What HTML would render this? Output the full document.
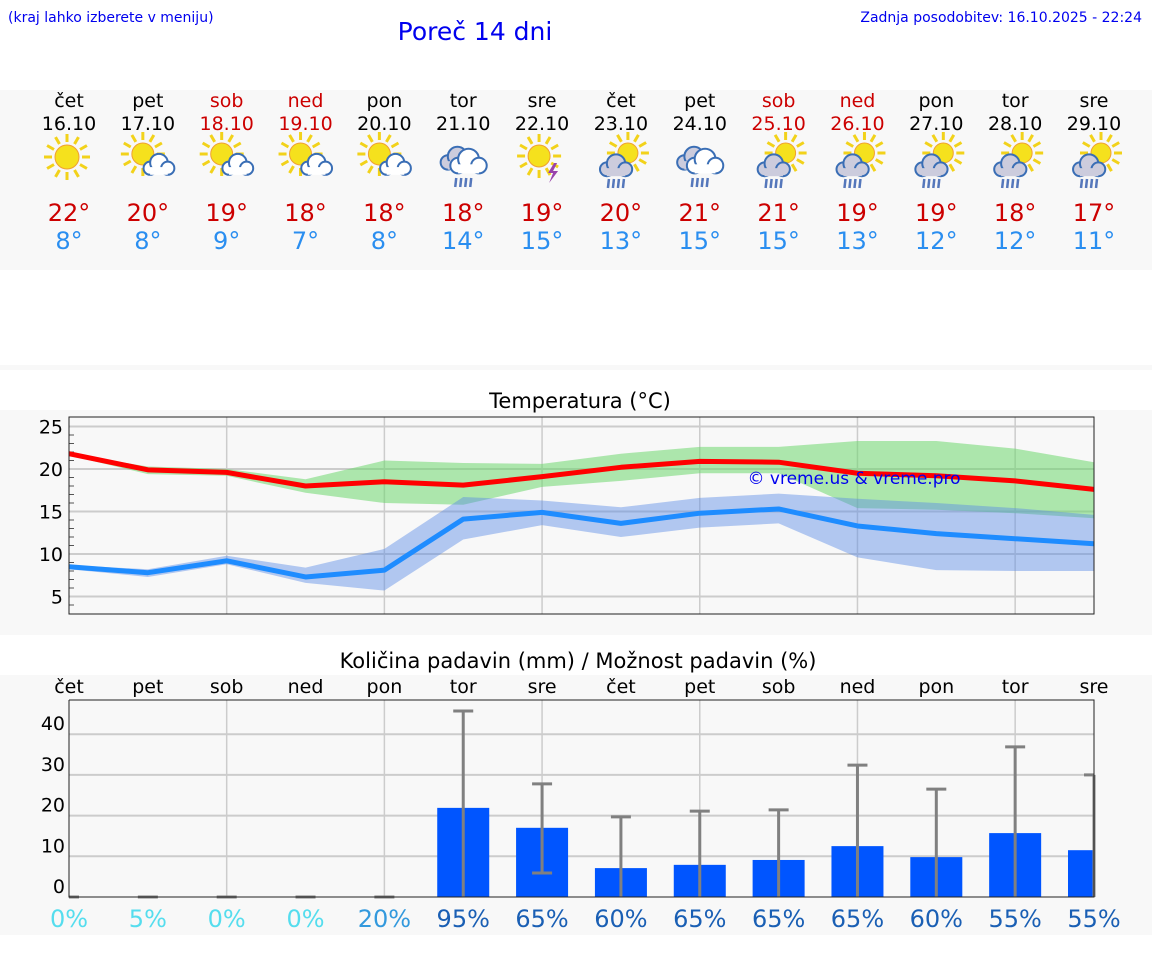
<!DOCTYPE html>
<html><head><meta charset="utf-8"><style>
body{margin:0;background:#fff;font-family:"DejaVu Sans","Liberation Sans",sans-serif}
svg{display:block}
</style></head><body>
<svg id="s" width="1152" height="975" xmlns="http://www.w3.org/2000/svg" font-family="DejaVu Sans, Liberation Sans, sans-serif">
<text x="8" y="22" font-size="14" fill="#0000ee">(kraj lahko izberete v meniju)</text>
<text x="475" y="40" font-size="25" fill="#0000ee" text-anchor="middle">Poreč 14 dni</text>
<text x="1142" y="22" font-size="14" fill="#0000ee" text-anchor="end">Zadnja posodobitev: 16.10.2025 - 22:24</text>
<rect x="0" y="90" width="1152" height="180" fill="#f8f8f8"/>
<rect x="0" y="365" width="1152" height="5" fill="#f8f8f8"/>
<rect x="0" y="410" width="1152" height="225" fill="#f8f8f8"/>
<rect x="0" y="675" width="1152" height="260" fill="#f8f8f8"/>
<g id="hdr"></g><g id="tc"></g><g id="pc"></g>
</svg>
<script>
const days=["čet","pet","sob","ned","pon","tor","sre","čet","pet","sob","ned","pon","tor","sre"];
const dates=["16.10","17.10","18.10","19.10","20.10","21.10","22.10","23.10","24.10","25.10","26.10","27.10","28.10","29.10"];
const weekend=[0,0,1,1,0,0,0,0,0,1,1,0,0,0];
const icons=[0,1,1,1,1,3,4,2,3,2,2,2,2,2];
const hiT=[22,20,19,18,18,18,19,20,21,21,19,19,18,17];
const loT=[8,8,9,7,8,14,15,13,15,15,13,12,12,11];
const maxLine=[21.8,19.9,19.6,18.0,18.5,18.1,19.1,20.2,20.9,20.8,19.5,19.2,18.6,17.6];
const maxUp=[21.8,20.3,20.0,18.8,21.0,20.7,20.6,21.8,22.6,22.6,23.3,23.3,22.4,20.8];
const maxLo=[21.6,19.4,19.2,17.2,16.0,15.8,17.9,18.6,19.5,19.5,15.4,15.2,14.8,14.2];
const minLine=[8.5,7.8,9.2,7.3,8.1,14.1,14.9,13.6,14.8,15.3,13.3,12.4,11.8,11.2];
const minUp=[8.7,8.2,9.8,8.4,10.6,16.7,16.3,15.5,16.6,17.1,16.5,16.0,15.4,14.6];
const minLo=[8.2,7.3,8.8,6.6,5.7,11.7,13.4,12.0,13.1,13.6,9.6,8.1,8.0,8.0];
const tTicks=[5,10,15,20,25];
const rain=[0,0,0,0,0,21.9,17.0,7.1,7.9,9.1,12.5,9.8,15.7,11.5];
const rainHi=[0,0,0,0,0,45.7,27.8,19.7,21.1,21.4,32.4,26.5,36.9,30.0];
const rainLo=[0,0,0,0,0,0,5.9,0,0,0,0,0,0,0];
const prob=[0,5,0,0,20,95,65,60,65,65,65,60,55,55];
const pTicks=[0,10,20,30,40];
const NS="http://www.w3.org/2000/svg";
function mk(p,t,a,txt){const e=document.createElementNS(NS,t);for(const k in a)e.setAttribute(k,a[k]);if(txt!==undefined)e.textContent=txt;p.appendChild(e);return e;}
const X0=69,X1=1094;const xd=i=>X0+i*(X1-X0)/13;
const H=document.getElementById('hdr');
function sun(g,cx,cy,r){for(let k=0;k<12;k++){const a=k*Math.PI/6;mk(g,'line',{x1:cx+Math.cos(a)*(r+3),y1:cy+Math.sin(a)*(r+3),x2:cx+Math.cos(a)*(r+11),y2:cy+Math.sin(a)*(r+11),stroke:'#f2d21a','stroke-width':3});}mk(g,'circle',{cx:cx,cy:cy,r:r,fill:'#f5e11d',stroke:'#f0a030','stroke-width':1});}
function cloud(g,cx,cy,s,fill){const c={fill:fill,stroke:'#3a6eb5','stroke-width':2};mk(g,'circle',Object.assign({cx:cx-7*s,cy:cy+2*s,r:6*s},c));mk(g,'circle',Object.assign({cx:cx+1*s,cy:cy-3*s,r:8*s},c));mk(g,'circle',Object.assign({cx:cx+9*s,cy:cy+2*s,r:6*s},c));mk(g,'rect',{x:cx-7*s,y:cy+1*s,width:16*s,height:7*s,fill:fill});}
function drops(g,cx,cy){for(let k=0;k<4;k++)mk(g,'line',{x1:cx-8+k*5,y1:cy+12,x2:cx-7+k*5,y2:cy+3,stroke:'#5577bb','stroke-width':2.5});}
for(let i=0;i<14;i++){const x=xd(i);const col=weekend[i]?'#cc0000':'#000';
let t=mk(H,'text',{x:x,y:107,'font-size':19,'text-anchor':'middle',fill:col},days[i]);
t=mk(H,'text',{x:x,y:130,'font-size':19,'text-anchor':'middle',fill:col},dates[i]);
const g=mk(H,'g',{});
const ic=icons[i];
if(ic===0)sun(g,x-2,157,12);
else if(ic===1){sun(g,x-5,154,11);cloud(g,x+10,166,1.1,'#fff');}
else if(ic===2){sun(g,x+7,153,10);cloud(g,x-6,167,1.15,'#ccd');drops(g,x-5,176);}
else if(ic===3){cloud(g,x-7,160,1.2,'#ccd');cloud(g,x+4,163,1.3,'#fff');drops(g,x,175);}
else if(ic===4){sun(g,x-3,156,11);mk(g,'path',{d:`M${x+12} 163 l-6 10 h5 l-4 10 l9 -12 h-5 l4 -8z`,fill:'#9944aa'});}
t=mk(H,'text',{x:x,y:221,'font-size':24,'text-anchor':'middle',fill:'#cc0000'},hiT[i]+'°');
t=mk(H,'text',{x:x,y:249,'font-size':24,'text-anchor':'middle',fill:'#2a8ef0'},loT[i]+'°');}
const T=document.getElementById('tc');const TY0=417,TY1=614;const ty=v=>639-8.5*v;
let e=mk(T,'text',{x:580,y:408,'font-size':21,'text-anchor':'middle'},'Temperatura (°C)');
for(const v of tTicks){e=mk(T,'line',{x1:X0,x2:X1,y1:ty(v),y2:ty(v),stroke:'#ccc','stroke-width':2});
e=mk(T,'text',{x:63,y:ty(v)+7,'font-size':19,'text-anchor':'end'},v);}
for(let v=4;v<26;v++){if(v%5)mk(T,'line',{x1:X0,x2:X0+5,y1:ty(v),y2:ty(v),stroke:'#555'});}
for(let i=2;i<14;i+=2){e=mk(T,'line',{x1:xd(i),x2:xd(i),y1:TY0,y2:TY1,stroke:'#ccc','stroke-width':1.5});}
function band(g,up,lo,fill,name){let d='M'+up.map((v,i)=>xd(i)+' '+ty(v)).join(' L')+' L'+lo.map((v,i)=>xd(i)+' '+ty(v)).reverse().join(' L')+'Z';const p=mk(g,'path',{d:d,fill:fill});}
band(T,maxUp,maxLo,'rgba(110,215,110,0.55)','max-temp-range');
band(T,minUp,minLo,'rgba(90,140,230,0.45)','min-temp-range');
function line(g,a,c,name){const p=mk(g,'polyline',{points:a.map((v,i)=>xd(i)+','+ty(v)).join(' '),fill:'none',stroke:c,'stroke-width':5,'stroke-linejoin':'round'});}
line(T,maxLine,'#ff0000','max-temp-line');line(T,minLine,'#1e8cff','min-temp-line');
e=mk(T,'text',{x:854,y:484,'font-size':17,'text-anchor':'middle',fill:'#0000ee'},'© vreme.us & vreme.pro');
e=mk(T,'rect',{x:X0,y:TY0,width:X1-X0,height:TY1-TY0,fill:'none',stroke:'#222','stroke-width':1});
const P=document.getElementById('pc');const PY0=700,PY1=897;const py=v=>897-4.07*v;const pyc=v=>Math.max(PY0,py(v));
e=mk(P,'text',{x:578,y:668,'font-size':21,'text-anchor':'middle'},'Količina padavin (mm) / Možnost padavin (%)');
for(const v of pTicks){if(v>0){e=mk(P,'line',{x1:X0,x2:X1,y1:py(v),y2:py(v),stroke:'#ccc','stroke-width':2});}
e=mk(P,'text',{x:65,y:py(v)-4,'font-size':19,'text-anchor':'end'},v);}
for(let i=2;i<14;i+=2){e=mk(P,'line',{x1:xd(i),x2:xd(i),y1:PY0,y2:PY1,stroke:'#ccc','stroke-width':1.5});}
for(let i=0;i<14;i++){const x=xd(i);
e=mk(P,'text',{x:x,y:693,'font-size':19,'text-anchor':'middle'},days[i]);
const w=52,l=Math.max(X0,x-w/2),r=Math.min(X1,x+w/2);
if(rain[i]>0){e=mk(P,'rect',{x:l,y:py(rain[i]),width:r-l,height:PY1-py(rain[i]),fill:'#0055ff'});}
const eg=mk(P,'g',{stroke:'#808080','stroke-width':3});
mk(eg,'line',{x1:x,x2:x,y1:pyc(rainHi[i]),y2:py(rainLo[i])});
mk(eg,'line',{x1:Math.max(X0,x-10),x2:Math.min(X1,x+10),y1:pyc(rainHi[i]),y2:pyc(rainHi[i])});
if(rainLo[i]>0)mk(eg,'line',{x1:Math.max(X0,x-10),x2:Math.min(X1,x+10),y1:py(rainLo[i]),y2:py(rainLo[i])});
const pc=prob[i]<10?'#55ddee':prob[i]<50?'#3399dd':'#1a5fb4';
e=mk(P,'text',{x:x,y:927,'font-size':24,'text-anchor':'middle',fill:pc},prob[i]+'%');}
e=mk(P,'polyline',{points:`${X0},${PY0} ${X0},${PY1} ${X1},${PY1} ${X1},${PY0} ${X0},${PY0}`,fill:'none',stroke:'#222','stroke-width':1});
</script>
</body></html>
